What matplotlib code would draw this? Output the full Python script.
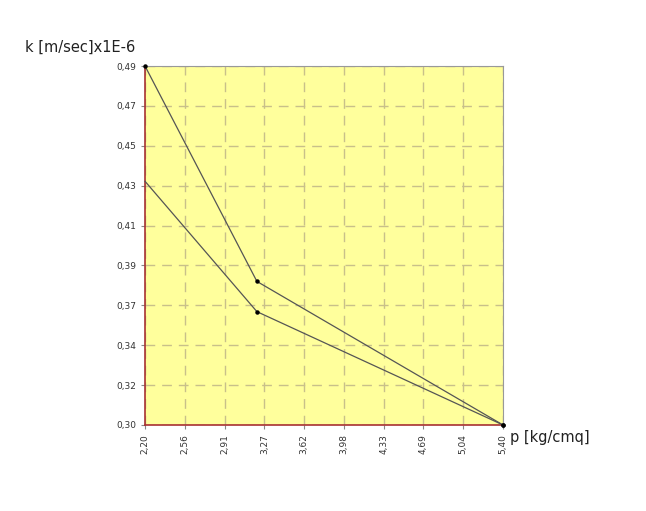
import numpy as np
import matplotlib
matplotlib.use('Agg')
import matplotlib.pyplot as plt

# data
p_upper = [2.20, 3.20, 5.40]
k_upper = [0.490, 0.376, 0.300]
p_lower = [2.20, 3.20, 5.40]
k_lower = [0.429, 0.360, 0.300]

x_labels = ['2,20', '2,56', '2,91', '3,27', '3,62', '3,98', '4,33', '4,69', '5,04', '5,40']
y_labels = ['0,30', '0,32', '0,34', '0,37', '0,39', '0,41', '0,43', '0,45', '0,47', '0,49']
x_min, x_max = 2.20, 5.40
y_min, y_max = 0.30, 0.49

fig = plt.figure(figsize=(6.46, 5.11), dpi=100)
ax = fig.add_axes([0.2245, 0.1683, 0.5542, 0.7025])
ax.set_facecolor('#ffff9c')

for xs, ys in [(p_upper, k_upper), (p_lower, k_lower)]:
    ax.plot(xs, ys, color='#555555', lw=0.9, zorder=3, clip_on=False)
    ax.plot(xs[1:], ys[1:], ls='none', marker='o', ms=2.2,
            mfc='black', mec='black', clip_on=False, zorder=4)
ax.plot([p_upper[0]], [k_upper[0]], ls='none', marker='o', ms=2.2,
        mfc='black', mec='black', clip_on=False, zorder=4)

xt = np.linspace(x_min, x_max, len(x_labels))
yt = np.linspace(y_min, y_max, len(y_labels))
ax.set_xlim(x_min, x_max)
ax.set_ylim(y_min, y_max)
ax.set_xticks(xt)
ax.set_yticks(yt)
ax.set_xticklabels(x_labels, rotation=90)
ax.set_yticklabels(y_labels)
ax.tick_params(labelsize=6.5, labelcolor='#333333', length=3, width=0.8, color='#888888')

ax.grid(True, color='#c8c08a', ls=(0, (7, 5)), lw=1.0)
ax.set_axisbelow(True)

ax.spines['left'].set_color('#a83232')
ax.spines['bottom'].set_color('#a83232')
ax.spines['left'].set_linewidth(1.2)
ax.spines['bottom'].set_linewidth(1.2)
ax.spines['top'].set_color('#999999')
ax.spines['right'].set_color('#999999')

fig.text(25 / 646, 1 - 47 / 511, 'k [m/sec]x1E-6', fontsize=10.5,
         color='#222222', va='center', ha='left')
fig.text(510 / 646, 1 - 437 / 511, 'p [kg/cmq]', fontsize=10.5,
         color='#222222', va='center', ha='left')

fig.savefig('out.png', dpi=100)
